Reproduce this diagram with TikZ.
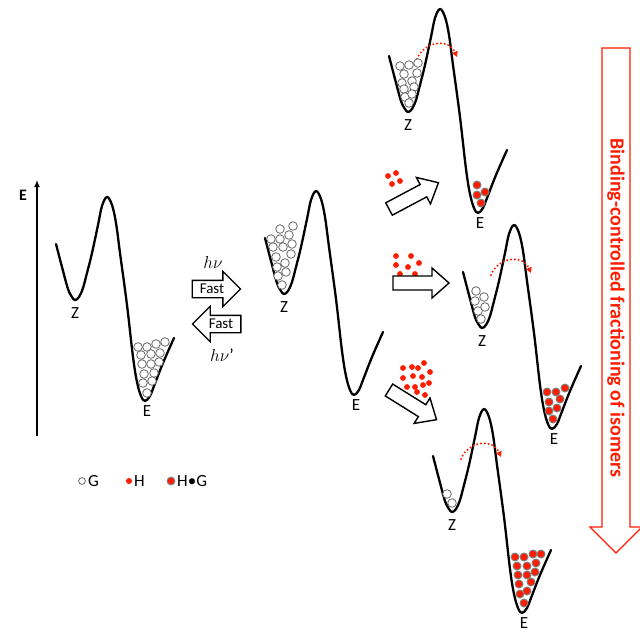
\documentclass[tikz,border=0pt]{standalone}
\usepackage{fontspec}
\setmainfont{Carlito}
\usetikzlibrary{arrows.meta, shapes.arrows}

\definecolor{hred}{RGB}{255,28,0}

% ball piles
\newcommand{\putG}[1]{\foreach \x/\y in {#1} \draw[gball] (\x,\y) circle (4.3pt);}
\newcommand{\putHG}[1]{\foreach \x/\y in {#1} {\fill[hgball] (\x,\y) circle (4.5pt); \fill[hdot] (\x,\y) circle (3.3pt);}}
\newcommand{\putH}[1]{\foreach \x/\y in {#1} \fill[hdot] (\x,\y) circle (2.9pt);}

\tikzset{
    pics/landscape/.style={code={
        \draw[curve] plot[smooth, tension=0.6] coordinates {(-19,-56) (-13,-33) (-7,-11) (-3,-3) (0,0) (4,-3) (8,-12) (12,-27) (17,-47) (23,-75) (27,-94) (32,-103) (37,-95) (41,-77) (45,-47) (52,5) (58,57) (62,82) (66,96) (70,101) (75,96) (79,86) (88,63) (99,38)};
        \node[lbl] (-Z) at (0,13) {Z};
        \node[lbl] (-E) at (72,111) {E};
    }},
    pics/hop/.style={code={
        \draw[hopline] (9,-53) .. controls (16,-71) and (41,-74) .. (49,-55);
    }},
    pics/fatarrow/.style={code={
        \draw[arrowline] (0,-7) -- (39,-7) -- (39,-15) -- (56,0) -- (39,15) -- (39,7) -- (0,7) -- cycle;
    }}
}

\begin{document}
\begin{tikzpicture}[
        x=1pt, y=-1pt,
        curve/.style={line width=2.3pt, line cap=round, line join=round},
        lbl/.style={font=\fontsize{17}{17}\selectfont, inner sep=0pt},
        legend/.style={font=\fontsize{17}{17}\selectfont, inner sep=0pt, anchor=west},
        gball/.style={draw=black!60, line width=0.8pt, fill=white},
        hgball/.style={fill=black!50},
        hdot/.style={fill=hred},
        hopline/.style={hred, line width=2.2pt, line cap=round, dash pattern=on 0pt off 3.8pt, -{Triangle[length=5.5pt,width=5.5pt]}},
        arrowline/.style={line width=1.4pt, fill=white},
        fastarrow/.style={single arrow, draw, line width=1.3pt, font=\fontsize{15}{15}\selectfont,
            text height=8pt, text depth=0pt, inner ysep=4pt, inner xsep=7pt, single arrow head extend=9pt},
        bigarrow/.style={draw=hred, line width=1.3pt}
    ]
    \useasboundingbox (0,0) rectangle (640,632);

    % energy axis
    \coordinate (axbot) at (37,436);
    \coordinate (axtop) at (37,180);
    \draw[line width=2pt, -{Latex[length=7pt,width=6pt]}] (axbot) -- (axtop);
    \node[font=\bfseries\fontsize{16}{16}\selectfont] (axlbl) at (23,195) {E};

    % energy landscapes
    \pic (ls1) at (75,300) {landscape};
    \pic (ls2) at (284,294) {landscape};
    \pic (ls3) at (408,112) {landscape};
    \pic (ls4) at (482,328) {landscape};
    \pic (ls5) at (452,512) {landscape};

    % hops over the barrier
    \pic at (408,112) {hop};
    \pic at (482,328) {hop};
    \pic at (452,512) {hop};

    % isomer piles
    \putG{138/347, 147/347, 156/344, 165/342, 141/355, 151/354, 160/353, 142/364, 151/364, 159/362, 144/374, 154/373, 143/383, 152/381, 147/393}
    \putG{293/226, 280/229, 289/235, 271/239, 280/239, 292/244, 273/247, 283/247, 291/254, 276/257, 285/263, 277/267, 286/272, 278/276, 282/285}
    \putG{400/66, 409/65, 418/63, 404/74, 417/73, 402/83, 412/81, 404/89, 414/87, 405/97, 412/94, 409/103}
    \putG{476/291, 484/297, 475/301, 485/307, 478/311, 481/319}
    \putG{447/494, 452/503}
    \putHG{477/185, 477/195, 485/192, 481/203}
    \putHG{547/392, 556/392, 565/388, 549/402, 560/399, 549/411, 557/408, 553/419}
    \putHG{515/557, 524/557, 533/554, 541/554, 517/566, 527/566, 536/563, 518/575, 527/575, 535/572, 519/584, 531/582, 520/594, 527/591, 524/603}

    % free H
    \putH{388/176, 396/173, 392/184, 400/181}
    \putH{396/256, 411/256, 419/263, 396/265, 408/267, 400/274, 415/274}
    \putH{403/368, 412/367, 418/368, 424/363, 403/378, 413/376, 422/377, 430/372, 407/387, 415/387, 423/385, 429/383, 417/392, 425/395}

    % adding H
    \pic[rotate=28] at (389,209) {fatarrow};
    \pic at (393,283) {fatarrow};
    \pic[rotate=-32] at (389,390) {fatarrow};

    % photo switching
    \node (hnu) at (213,262) {\fontsize{18}{18}\selectfont$h\nu$};
    \node[fastarrow] (fwd) at (212,289) {Fast};
    \node[fastarrow, shape border rotate=180] (bwd) at (221,324) {Fast};
    \node (hnup) at (222,355) {\fontsize{18}{18}\selectfont$h\nu$’};

    % fractioning
    \draw[bigarrow] (602,48) -- (630,48) -- (630,527) -- (642,527) -- (616,553) -- (590,527) -- (602,527) -- cycle;
    \node[rotate=-90, text=hred, font=\bfseries\fontsize{20}{20}\selectfont] (frac) at (616,308) {Binding-controlled fractioning of isomers};

    % legend
    \draw[gball] (82,481) circle (3.4pt);
    \node[legend] (legG) at (88,481) {G};
    \fill[hdot] (129,481) circle (3pt);
    \node[legend] (legH) at (134,481) {H};
    \fill[hgball] (171,481) circle (4.4pt);
    \fill[hdot] (171,481) circle (3.2pt);
    \node[legend] (legHG) at (177,481) {H•G};
\end{tikzpicture}
\end{document}
